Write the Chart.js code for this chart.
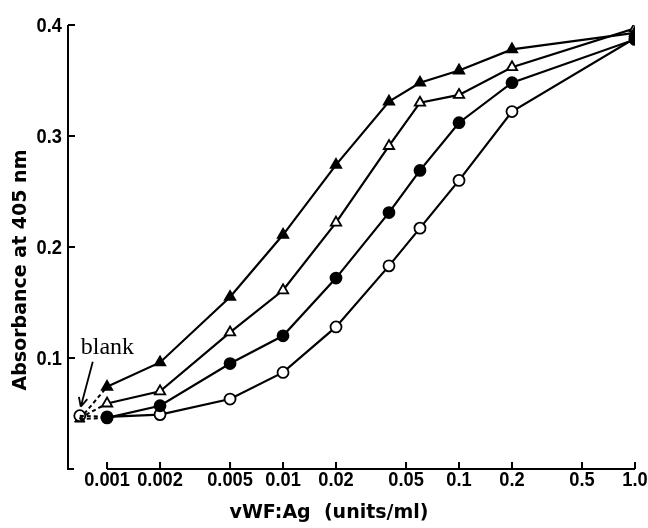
<!DOCTYPE html>
<html>
<head>
<meta charset="utf-8">
<script src="https://cdn.jsdelivr.net/npm/chart.js@4/dist/chart.umd.min.js"></script>
<style>
    body { margin: 0; background: #fff; }
</style>
</head>
<body>
<canvas id="graficoElisa" width="648" height="528"></canvas>
<script>
// concentrações (vWF:Ag units/ml)
const doses = [0.001, 0.002, 0.005, 0.01, 0.02, 0.04, 0.06, 0.1, 0.2, 1.0];
const trianguloCheio = [0.074, 0.096, 0.155, 0.211, 0.274, 0.331, 0.348, 0.359, 0.378, 0.393];
const trianguloVazio = [0.059, 0.070, 0.123, 0.161, 0.222, 0.291, 0.330, 0.337, 0.362, 0.397];
const circuloCheio = [0.046, 0.057, 0.095, 0.120, 0.172, 0.231, 0.269, 0.312, 0.348, 0.387];
const circuloVazio = [0.047, 0.049, 0.063, 0.087, 0.128, 0.183, 0.217, 0.260, 0.322, 0.388];

// blank
const doseBlank = 0.0007;
const blankValores = [0.045, 0.046, 0.045, 0.048];

const xTicks = [0.001, 0.002, 0.005, 0.01, 0.02, 0.05, 0.1, 0.2, 0.5, 1.0];
const xTickLabels = ['0.001', '0.002', '0.005', '0.01', '0.02', '0.05', '0.1', '0.2', '0.5', '1.0'];
const yTicks = [0.1, 0.2, 0.3, 0.4];
const yTickLabels = ['0.1', '0.2', '0.3', '0.4'];

function pares(valores) {
    return doses.map(function (d, i) { return { x: d, y: valores[i] }; });
}

const series = [
    { valores: trianguloCheio, estilo: 'triangle', fundo: '#000', raio: 6 },
    { valores: trianguloVazio, estilo: 'triangle', fundo: '#fff', raio: 6 },
    { valores: circuloCheio, estilo: 'circle', fundo: '#000', raio: 5.5 },
    { valores: circuloVazio, estilo: 'circle', fundo: '#fff', raio: 5.5 }
];

const datasets = [];
series.forEach(function (s, i) {
    datasets.push({
        data: pares(s.valores),
        borderColor: '#000',
        borderWidth: 2.2,
        pointStyle: s.estilo,
        pointRadius: s.raio,
        pointBackgroundColor: s.fundo,
        pointBorderColor: '#000',
        pointBorderWidth: 1.8
    });
    datasets.push({
        data: [{ x: doseBlank, y: blankValores[i] }, { x: doses[0], y: s.valores[0] }],
        borderColor: '#000',
        borderWidth: 2,
        borderDash: [4, 3],
        pointRadius: 0
    });
});
// marcadores do blank
datasets.push({
    data: [{ x: doseBlank, y: blankValores[3] }],
    showLine: false,
    pointStyle: 'circle',
    pointRadius: 5.5,
    pointBackgroundColor: '#fff',
    pointBorderColor: '#000',
    pointBorderWidth: 1.8
});
datasets.push({
    data: [{ x: doseBlank, y: blankValores[0] }],
    showLine: false,
    pointStyle: 'triangle',
    pointRadius: 6,
    pointBackgroundColor: '#000',
    pointBorderColor: '#000'
});

// texto condensado (as legendas do original são estreitas)
function textoEstreito(ctx, texto, px, py, alinhamento) {
    ctx.save();
    ctx.translate(px, py);
    ctx.scale(0.87, 1);
    ctx.textAlign = alinhamento;
    ctx.fillText(texto, 0, 0);
    ctx.restore();
}

const eixos = {
    id: 'eixos',
    afterDraw: function (chart) {
        const ctx = chart.ctx;
        const x = chart.scales.x;
        const y = chart.scales.y;
        const left = chart.chartArea.left;
        const base = y.getPixelForValue(0);
        ctx.save();
        ctx.strokeStyle = '#000';
        ctx.fillStyle = '#000';
        ctx.lineWidth = 2;
        // eixo y
        ctx.beginPath();
        ctx.moveTo(left, y.getPixelForValue(0.4));
        ctx.lineTo(left, base);
        ctx.lineTo(left + 6, base);
        yTicks.forEach(function (v) {
            const py = y.getPixelForValue(v);
            ctx.moveTo(left, py);
            ctx.lineTo(left + 7, py);
        });
        // eixo x
        ctx.moveTo(x.getPixelForValue(xTicks[0]), base);
        ctx.lineTo(x.getPixelForValue(xTicks[xTicks.length - 1]), base);
        xTicks.forEach(function (v) {
            const px = x.getPixelForValue(v);
            ctx.moveTo(px, base);
            ctx.lineTo(px, base - 7);
        });
        ctx.stroke();

        // rótulos dos ticks
        ctx.font = 'bold 21px "Liberation Sans"';
        ctx.textBaseline = 'middle';
        xTicks.forEach(function (v, i) {
            textoEstreito(ctx, xTickLabels[i], x.getPixelForValue(v), base + 11, 'center');
        });
        yTicks.forEach(function (v, i) {
            textoEstreito(ctx, yTickLabels[i], left - 6, y.getPixelForValue(v) + 1, 'right');
        });

        // blank + seta
        const bx = x.getPixelForValue(doseBlank);
        const by = y.getPixelForValue(blankValores[3]);
        ctx.font = '24px "Liberation Serif"';
        ctx.textAlign = 'left';
        ctx.textBaseline = 'alphabetic';
        ctx.fillText('blank', bx + 1, by - 62);
        const x1 = bx + 13, y1 = by - 54, x2 = bx + 1, y2 = by - 9;
        ctx.lineWidth = 1.8;
        ctx.beginPath();
        ctx.moveTo(x1, y1);
        ctx.lineTo(x2, y2);
        const ang = Math.atan2(y2 - y1, x2 - x1);
        ctx.moveTo(x2, y2);
        ctx.lineTo(x2 - 10 * Math.cos(ang - 0.45), y2 - 10 * Math.sin(ang - 0.45));
        ctx.moveTo(x2, y2);
        ctx.lineTo(x2 - 10 * Math.cos(ang + 0.45), y2 - 10 * Math.sin(ang + 0.45));
        ctx.stroke();

        // títulos dos eixos
        ctx.font = 'bold 19px "DejaVu Sans"';
        ctx.textAlign = 'center';
        ctx.textBaseline = 'middle';
        ctx.fillText('vWF:Ag  (units/ml)', 329, 513);
        ctx.translate(21, 270);
        ctx.rotate(-Math.PI / 2);
        ctx.fillText('Absorbance at 405 nm', 0, 0);
        ctx.restore();
    }
};

const ctxElisa = document.getElementById('graficoElisa').getContext('2d');
const graficoElisa = new Chart(ctxElisa, {
    type: 'line',
    data: { datasets: datasets },
    options: {
        responsive: false,
        animation: false,
        layout: {
            padding: { left: 8, right: 13, top: 25, bottom: 0 }
        },
        scales: {
            x: {
                type: 'logarithmic',
                min: 0.0006,
                max: 1.0,
                grid: { display: false, drawTicks: false },
                border: { display: false },
                ticks: { display: false },
                afterFit: function (scale) { scale.height = 59; }
            },
            y: {
                min: 0,
                max: 0.4,
                grid: { display: false, drawTicks: false },
                border: { display: false },
                ticks: { display: false },
                afterFit: function (scale) { scale.width = 60; }
            }
        },
        plugins: {
            legend: { display: false },
            tooltip: { enabled: false }
        }
    },
    plugins: [eixos]
});
</script>
</body>
</html>
